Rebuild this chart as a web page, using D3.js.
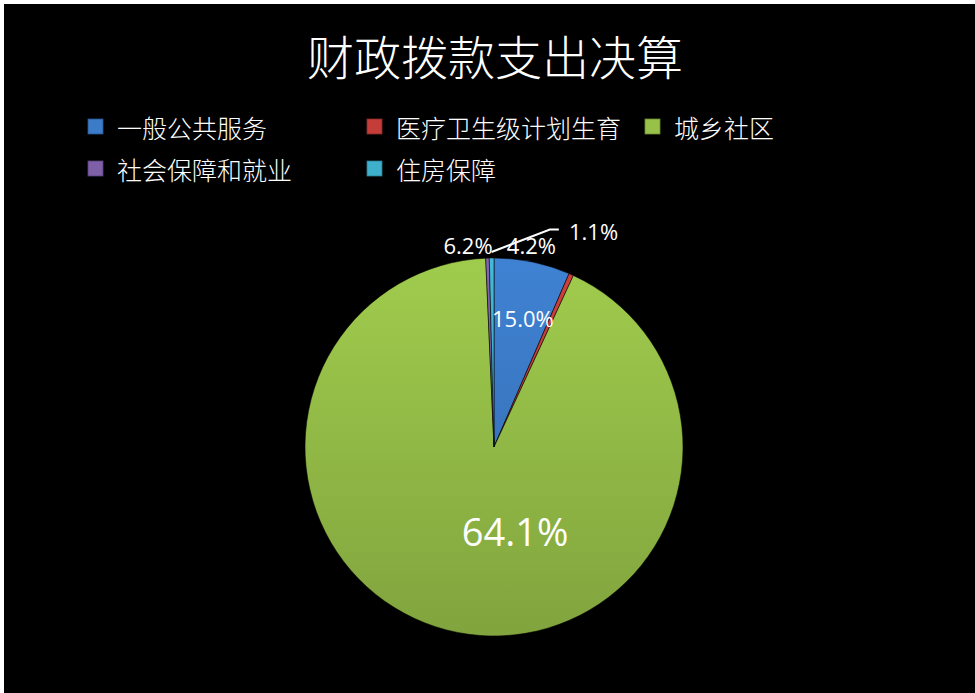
<!DOCTYPE html>
<html>
<head>
<meta charset="utf-8">
<script src="https://cdn.jsdelivr.net/npm/d3@7"></script>
<style>
    body { margin: 0; background: #fff; }
</style>
</head>
<body>
<script>
    // Data
    const title = "财政拨款支出决算";
    const categories = ["一般公共服务", "医疗卫生级计划生育", "城乡社区", "社会保障和就业", "住房保障"];
    // slice sizes as drawn (share of the circle, %)
    const values = [6.5, 0.4, 92.4, 0.3, 0.4];
    // data label texts as printed on the chart
    const labelTexts = ["15.0%", "4.2%", "64.1%", "6.2%", "1.1%"];
    const colors = ["#3c7bc8", "#c43d39", "#98c149", "#7e5fa8", "#3fb0cc"];

    // label placement: angle (deg, clockwise from 12 o'clock) and radius as fraction of R
    const labelLayout = [
        { angle: 12.6, r: 0.70, size: 22 },
        { angle: 10.5, r: 1.085, size: 22 },
        { angle: 166, r: 0.46, size: 38 },
        { angle: -7.35, r: 1.075, size: 22 },
        { angle: 24.7, r: 1.26, size: 22 }
    ];

    const width = 975, height = 693;
    const cx = 494, cy = 447, R = 189;

    const svg = d3.select("body")
        .append("svg")
        .attr("width", width)
        .attr("height", height);

    // black chart area with thin white border at top/left
    svg.append("rect")
        .attr("x", 4).attr("y", 4)
        .attr("width", width - 4).attr("height", height - 4)
        .attr("fill", "#000");

    // Title
    svg.append("text")
        .attr("x", 495)
        .attr("y", 54)
        .attr("text-anchor", "middle")
        .attr("dominant-baseline", "central")
        .attr("fill", "#fff")
        .style("font-family", "'Noto Sans CJK SC', sans-serif")
        .style("font-weight", 300)
        .style("font-size", "47px")
        .text(title);

    // Legend
    const legendCols = [88, 367, 645];
    const legendRows = [127, 169];
    const legend = svg.selectAll("g.legend")
        .data(categories)
        .enter()
        .append("g")
        .attr("class", "legend")
        .attr("transform", (d, i) => {
            let col = i < 3 ? i : i - 3;
            let row = i < 3 ? 0 : 1;
            return `translate(${legendCols[col]}, ${legendRows[row]})`;
        });

    legend.append("rect")
        .attr("x", 0).attr("y", -8)
        .attr("width", 15).attr("height", 15)
        .attr("fill", (d, i) => colors[i])
        .attr("stroke", (d, i) => d3.color(colors[i]).darker(1))
        .attr("stroke-width", 0.8);

    legend.append("text")
        .attr("x", 29)
        .attr("y", 0)
        .attr("dominant-baseline", "central")
        .attr("fill", "#fff")
        .style("font-family", "'Noto Sans CJK SC', sans-serif")
        .style("font-weight", 300)
        .style("font-size", "25px")
        .text(d => d);

    // Gradients for slices (lighter at top, darker at bottom)
    const defs = svg.append("defs");
    colors.forEach((c, i) => {
        let g = defs.append("linearGradient")
            .attr("id", "grad" + i)
            .attr("gradientUnits", "userSpaceOnUse")
            .attr("x1", 0).attr("y1", -R)
            .attr("x2", 0).attr("y2", R);
        g.append("stop").attr("offset", "0%").attr("stop-color", d3.color(c).brighter(0.15));
        g.append("stop").attr("offset", "100%").attr("stop-color", d3.color(c).darker(0.45));
    });

    // Pie
    const pie = d3.pie().sort(null).value(d => d);
    const arcs = pie(values);
    const arc = d3.arc().innerRadius(0).outerRadius(R);

    const g = svg.append("g")
        .attr("transform", `translate(${cx}, ${cy})`);

    g.selectAll("path.slice")
        .data(arcs)
        .enter()
        .append("path")
        .attr("class", "slice")
        .attr("d", arc)
        .attr("fill", (d, i) => `url(#grad${i})`)
        .attr("stroke", "rgba(0,0,0,0.55)")
        .attr("stroke-width", 1);

    // polar helper (degrees clockwise from top)
    const polar = (deg, r) => {
        let a = deg * Math.PI / 180;
        return [r * Math.sin(a), -r * Math.cos(a)];
    };

    // Leader line for the outside label at the top
    const cyanMid = (arcs[4].startAngle + arcs[4].endAngle) / 2 * 180 / Math.PI;
    const p0 = polar(cyanMid, R + 6);
    const p1 = polar(14.4, 224.6);
    const p2 = [p1[0] + 9, p1[1]];
    g.append("path")
        .attr("d", d3.line()([p0, p1, p2]))
        .attr("fill", "none")
        .attr("stroke", "#fff")
        .attr("stroke-width", 2);

    // Data labels
    g.selectAll("text.label")
        .data(labelTexts)
        .enter()
        .append("text")
        .attr("class", "label")
        .attr("transform", (d, i) => {
            let p = polar(labelLayout[i].angle, labelLayout[i].r * R);
            return `translate(${p[0]}, ${p[1]})`;
        })
        .attr("text-anchor", "middle")
        .attr("dominant-baseline", "central")
        .attr("fill", "#fff")
        .style("font-family", "'Open Sans', sans-serif")
        .style("font-size", (d, i) => labelLayout[i].size + "px")
        .text(d => d);
</script>
</body>
</html>
